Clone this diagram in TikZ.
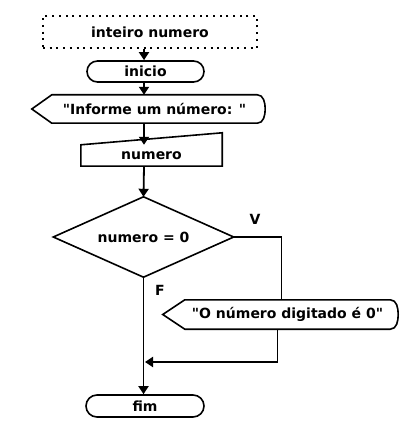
\documentclass[tikz,border=0pt]{standalone}
\usepackage{fontspec}
\setmainfont{DejaVu Sans}[Ligatures=TeXOff]
\usetikzlibrary{arrows.meta}
\begin{document}
\begin{tikzpicture}[x=1pt,y=-1pt,
  every node/.style={font=\bfseries\fontsize{14}{16}\selectfont, inner sep=0pt},
  outl/.style={line width=1.6pt, line join=miter},
  conn/.style={line width=1.8pt},
  arr/.style={conn, -{Triangle[length=8pt,width=10pt]}},
  lab/.style={font=\bfseries\fontsize{14}{16}\selectfont}]
\useasboundingbox (0,0) rectangle (410,430);
% declaration
\node[draw, line width=2.2pt, dash pattern=on 2pt off 4.7pt, minimum width=214pt, minimum height=32pt] (decl) at (150,32) {inteiro numero};
% inicio
\node[draw, outl, rounded corners=10.5pt, minimum width=117pt, minimum height=21pt] (ini) at (145.5,71.5) {inicio};
% message 1 (display)
\node[minimum width=205pt, minimum height=28pt] (msg1) at (154.5,109) {"Informe um número: "};
\draw[outl] ([xshift=-20pt]msg1.west) -- (msg1.north west) -- (msg1.north east)
  to[out=0,in=90] ([xshift=8pt]msg1.east) to[out=-90,in=0] (msg1.south east)
  -- (msg1.south west) -- cycle;
% read (manual input)
\node[minimum width=141pt, minimum height=21pt] (rd) at (151.5,155.5) {numero};
\draw[outl] (rd.south west) -- (rd.south east) -- ([yshift=12pt]rd.north east) -- (rd.north west) -- cycle;
% decision
\node[minimum width=180pt, minimum height=80pt] (dec) at (143.5,237) {numero = 0};
\draw[outl] (dec.west) -- (dec.north) -- (dec.east) -- (dec.south) -- cycle;
% message 2
\node[minimum width=205pt, minimum height=29pt] (msg2) at (287.5,314.5) {"O número digitado é 0"};
\draw[outl] ([xshift=-22pt]msg2.west) -- (msg2.north west) -- (msg2.north east)
  to[out=0,in=90] ([xshift=8pt]msg2.east) to[out=-90,in=0] (msg2.south east)
  -- (msg2.south west) -- cycle;
% fim
\node[draw, outl, rounded corners=11pt, minimum width=118pt, minimum height=22pt] (fim) at (145,406) {fim};
% labels
\node[lab] (V) at (255,219) {V};
\node[lab] (F) at (160,290) {F};
% connectors
\draw[arr] (decl.south -| 144,0) -- (ini.north -| 144,0);
\draw[arr] (ini.south -| 144,0) -- (msg1.north -| 144,0);
\draw[arr] (msg1.south -| 144,0) -- (rd.north -| 144,0 |- 0,134);
\draw[arr] (rd.south -| 144,0) -- (dec.north);
\draw[conn] (dec.east) -| ([xshift=-6pt]msg2.north);
\coordinate (join) at (144,362);
\draw[arr] ([xshift=-10pt]msg2.south) |- ([xshift=1pt]join);
\draw[arr] (dec.south) -- (fim.north -| dec.south);
\end{tikzpicture}
\end{document}
